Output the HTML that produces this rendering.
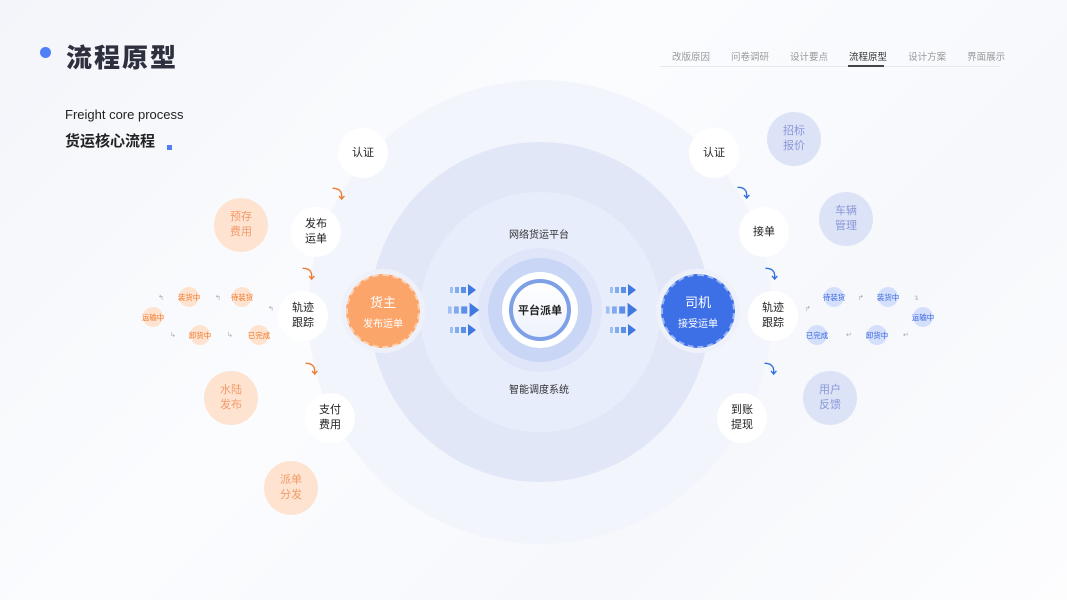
<!DOCTYPE html>
<html><head><meta charset="utf-8"><style>
body{margin:0;width:1067px;height:600px;overflow:hidden;font-family:"Liberation Sans","Noto Sans CJK SC",sans-serif;background:linear-gradient(135deg,#f3f5fa 0%,#fbfcfe 40%,#f6f8fc 70%,#fdfdfe 100%);position:relative}
.a{position:absolute}
.c{position:absolute;border-radius:50%;display:flex;align-items:center;justify-content:center;text-align:center;transform:translate(-50%,-50%)}
.w{background:#fff;width:50px;height:50px;font-size:11px;color:#222;line-height:15px}
.pe{background:#fde3d0;width:54px;height:54px;color:#f39c6b;font-size:11px;line-height:15px}
.bl{background:#dce3f6;width:54px;height:54px;color:#8a97d8;font-size:11px;line-height:15px}
.sp{background:#fde3d0;width:20px;height:20px;color:#f07a2e;font-size:7.5px;white-space:nowrap}
.sb{background:#d4e0fb;width:20px;height:20px;color:#3c68e0;font-size:7.5px;white-space:nowrap}
.t{position:absolute;font-size:7px;color:#aaa}
.nav span{margin-right:21px}
</style></head><body>
<div class="c" style="left:540px;top:312px;width:464px;height:464px;background:#f3f5fc"></div>
<div class="c" style="left:540px;top:312px;width:340px;height:340px;background:#e2e7f7"></div>
<div class="c" style="left:540px;top:312px;width:240px;height:240px;background:#e8edfb"></div>
<div class="c" style="left:540px;top:310px;width:104px;height:104px;background:#c9d6f5;box-shadow:0 0 0 10px #dfe6f9"></div>
<div class="c" style="left:540px;top:310px;width:76px;height:76px;background:#fff"></div>
<div class="c" style="left:540px;top:310px;width:62px;height:62px;border:4px solid #7da0e6;box-sizing:border-box;background:linear-gradient(#fff,#eef2fc);font-size:11px;font-weight:bold;color:#222">平台派单</div>
<div class="a" style="left:509px;top:226px;font-size:10px;color:#333">网络货运平台</div>
<div class="a" style="left:509px;top:381px;font-size:10px;color:#333">智能调度系统</div>

<div class="a" style="left:40px;top:47px;width:11px;height:11px;border-radius:50%;background:#4f7ef5"></div>
<div class="a" style="left:66px;top:38px;font-size:26px;font-weight:900;color:#2e3040;letter-spacing:2px">流程原型</div>
<div class="a" style="left:65px;top:107px;font-size:13px;color:#222">Freight core process</div>
<div class="a" style="left:65px;top:130px;font-size:15px;font-weight:bold;color:#222">货运核心流程</div>
<div class="a" style="left:167px;top:145px;width:5px;height:5px;background:#4f7ef5"></div>

<div class="a nav" style="left:672px;top:49px;font-size:9.5px;color:#999;white-space:nowrap"><span>改版原因</span><span>问卷调研</span><span>设计要点</span><span style="color:#333">流程原型</span><span>设计方案</span><span>界面展示</span></div>
<div class="a" style="left:660px;top:66px;width:340px;height:1px;background:#e8e8ec"></div>
<div class="a" style="left:848px;top:65px;width:36px;height:2px;background:#444"></div>

<div class="c w" style="left:363px;top:153px">认证</div>
<div class="c w" style="left:316px;top:232px">发布<br>运单</div>
<div class="c w" style="left:303px;top:316px">轨迹<br>跟踪</div>
<div class="c w" style="left:330px;top:418px">支付<br>费用</div>
<div class="c w" style="left:714px;top:153px">认证</div>
<div class="c w" style="left:764px;top:232px">接单</div>
<div class="c w" style="left:773px;top:316px">轨迹<br>跟踪</div>
<div class="c w" style="left:742px;top:418px">到账<br>提现</div>

<div class="c" style="left:383px;top:311px;width:84px;height:84px;background:#eef1f9"></div>
<div class="c" style="left:383px;top:311px;width:74px;height:74px;background:#fba56a;border:2px dashed #fdd0b0;box-sizing:border-box;color:#fff;flex-direction:column;font-size:10px"><div style="font-size:13px;margin-bottom:4px">货主</div>发布运单</div>
<div class="c" style="left:698px;top:311px;width:84px;height:84px;background:#eef1f9"></div>
<div class="c" style="left:698px;top:311px;width:74px;height:74px;background:#3d6fe6;border:2px dashed #9ab6f4;box-sizing:border-box;color:#fff;flex-direction:column;font-size:10px"><div style="font-size:13px;margin-bottom:4px">司机</div>接受运单</div>

<div class="c pe" style="left:241px;top:225px">预存<br>费用</div>
<div class="c pe" style="left:231px;top:398px">水陆<br>发布</div>
<div class="c pe" style="left:291px;top:488px">派单<br>分发</div>
<div class="c bl" style="left:794px;top:139px">招标<br>报价</div>
<div class="c bl" style="left:846px;top:219px">车辆<br>管理</div>
<div class="c bl" style="left:830px;top:398px">用户<br>反馈</div>

<div class="c sp" style="left:189px;top:297px">装货中</div>
<div class="c sp" style="left:242px;top:297px">待装货</div>
<div class="c sp" style="left:153px;top:317px">运输中</div>
<div class="c sp" style="left:200px;top:335px">卸货中</div>
<div class="c sp" style="left:259px;top:335px">已完成</div>
<div class="c sb" style="left:834px;top:297px">待装货</div>
<div class="c sb" style="left:888px;top:297px">装货中</div>
<div class="c sb" style="left:923px;top:317px">运输中</div>
<div class="c sb" style="left:877px;top:335px">卸货中</div>
<div class="c sb" style="left:817px;top:335px">已完成</div>
<div class="t" style="left:158px;top:294px">↰</div><div class="t" style="left:215px;top:294px">↰</div><div class="t" style="left:268px;top:305px">↰</div><div class="t" style="left:170px;top:331px">↳</div><div class="t" style="left:227px;top:331px">↳</div>
<div class="t" style="left:805px;top:305px">↱</div><div class="t" style="left:858px;top:294px">↱</div><div class="t" style="left:913px;top:294px">↴</div><div class="t" style="left:903px;top:331px">↵</div><div class="t" style="left:846px;top:331px">↵</div>

<div class="a" style="left:332px;top:184px;color:#f07a2e;font-size:13px;font-weight:bold">⤵</div>
<div class="a" style="left:302px;top:264px;color:#f07a2e;font-size:13px;font-weight:bold">⤵</div>
<div class="a" style="left:305px;top:359px;color:#f07a2e;font-size:13px;font-weight:bold">⤵</div>
<div class="a" style="left:737px;top:183px;color:#2f6fe0;font-size:13px;font-weight:bold">⤵</div>
<div class="a" style="left:765px;top:264px;color:#2f6fe0;font-size:13px;font-weight:bold">⤵</div>
<div class="a" style="left:764px;top:359px;color:#2f6fe0;font-size:13px;font-weight:bold">⤵</div>

<svg class="a" style="left:440px;top:280px" width="200" height="60">
<defs><g id="ar"><rect x="0" y="-3" width="3" height="6" fill="#9ec0f5"/><rect x="5" y="-3" width="4" height="6" fill="#7fa9f0"/><rect x="11" y="-3" width="5" height="6" fill="#5a8ee8"/><polygon points="18,-6 26,0 18,6" fill="#3f78e0"/></g></defs>
<use href="#ar" x="10" y="10"/><use href="#ar" x="10" y="50"/><g transform="translate(8,30) scale(1.2)"><use href="#ar"/></g>
<use href="#ar" x="170" y="10"/><use href="#ar" x="170" y="50"/><g transform="translate(166,30) scale(1.2)"><use href="#ar"/></g>
</svg>
</body></html>
